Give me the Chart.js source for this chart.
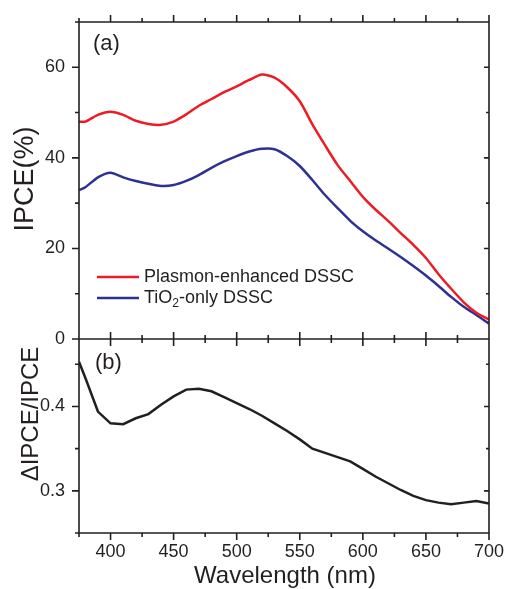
<!DOCTYPE html>
<html>
<head>
<meta charset="utf-8">
<title>IPCE spectra</title>
<script src="https://cdn.jsdelivr.net/npm/chart.js@4.4.1/dist/chart.umd.min.js"></script>
<style>
  body { margin: 0; background: #fff; }
  #wrap { width: 507px; height: 589px; }
</style>
</head>
<body>
<div id="wrap"><canvas id="canvas" width="507" height="589"></canvas></div>
<script>
// wavelength grid (nm), shared by both panels
const wavelength = [375, 380, 390, 400, 410, 420, 430, 440, 450, 460, 470, 480, 490, 500, 510, 520,
  530, 540, 550, 560, 570, 580, 590, 600, 610, 620, 630, 640, 650, 660, 670, 680, 690, 700];

// panel (a): IPCE in %
const plasmonIpce = [48.0, 48.0, 49.5, 50.2, 49.5, 48.2, 47.5, 47.3, 48.0, 49.6, 51.5, 53.0, 54.5, 55.8, 57.2, 58.4,
  57.7, 55.6, 52.5, 47.4, 42.8, 38.4, 34.9, 31.4, 28.6, 26.1, 23.4, 20.8, 17.9, 14.3, 11.1, 8.1, 5.8, 4.3];
const tio2Ipce = [32.9, 33.5, 35.7, 36.7, 35.7, 34.9, 34.3, 33.8, 34.0, 34.9, 36.2, 37.8, 39.2, 40.4, 41.4, 42.0,
  41.9, 40.4, 38.2, 35.1, 31.8, 28.9, 26.1, 23.8, 21.8, 20.0, 18.1, 16.1, 14.0, 11.7, 9.3, 7.1, 5.3, 3.4];

// panel (b): relative enhancement
const ipceRatio = [0.453, 0.434, 0.394, 0.380, 0.379, 0.386, 0.391, 0.402, 0.412, 0.420, 0.421, 0.418, 0.411, 0.404,
  0.397, 0.389, 0.380, 0.371, 0.361, 0.350, 0.345, 0.340, 0.335, 0.326, 0.317, 0.309, 0.301, 0.294, 0.289,
  0.286, 0.284, 0.286, 0.288, 0.285];

// axis ticks
const xMajor = [400, 450, 500, 550, 600, 650, 700];
const xMinor = [375, 425, 475, 525, 575, 625, 675];
const ipceMajor = [0, 20, 40, 60];
const ipceMinor = [10, 30, 50, 70];
const ratioMajor = [0.3, 0.4];
const ratioMinor = [0.25, 0.35, 0.45];

const ink = '#231f20';
const FONT = "'Liberation Sans', Arial, Helvetica, sans-serif";
Chart.defaults.font.family = FONT;
Chart.defaults.color = ink;

function points(ys) {
  return wavelength.map((w, i) => ({ x: w, y: ys[i] }));
}

function fixedTicks(values) {
  return scale => { scale.ticks = values.map(v => ({ value: v })); };
}

// keep the plot box fixed: no extra room for overhanging tick labels
function fixSize(prop, size) {
  return s => {
    s[prop] = size;
    s.paddingLeft = s.paddingRight = s.paddingTop = s.paddingBottom = 0;
  };
}

// frame, tick marks, axis titles and legend drawn over the plot
const framePlugin = {
  id: 'frame',
  afterDraw(chart) {
    const ctx = chart.ctx;
    const x = chart.scales.x, ya = chart.scales.yA, yb = chart.scales.yB;
    const left = chart.chartArea.left, right = chart.chartArea.right;
    const top = ya.top, mid = ya.bottom, bottom = yb.bottom;

    ctx.save();
    ctx.strokeStyle = ink;
    ctx.lineWidth = 1.6;
    ctx.lineCap = 'butt';
    ctx.beginPath();
    ctx.rect(left, top, right - left, bottom - top);
    ctx.moveTo(left, mid); ctx.lineTo(right, mid);

    const seg = (x1, y1, x2, y2) => { ctx.moveTo(x1, y1); ctx.lineTo(x2, y2); };
    xMajor.forEach(v => {
      const p = x.getPixelForValue(v);
      seg(p, top, p, top - 7);
      seg(p, mid - 7, p, mid + 7);
      seg(p, bottom, p, bottom + 7);
    });
    xMinor.forEach(v => {
      const p = x.getPixelForValue(v);
      seg(p, top, p, top - 4);
      seg(p, mid - 4, p, mid + 4);
      seg(p, bottom, p, bottom + 4);
    });
    ipceMajor.forEach(v => {
      const p = ya.getPixelForValue(v);
      seg(left - 7, p, left, p);
      seg(right - 5, p, right, p);
    });
    ipceMinor.forEach(v => {
      const p = ya.getPixelForValue(v);
      seg(left - 4, p, left, p);
      seg(right - 3, p, right, p);
    });
    ratioMajor.forEach(v => {
      const p = yb.getPixelForValue(v);
      seg(left - 7, p, left, p);
      seg(right - 5, p, right, p);
    });
    ratioMinor.forEach(v => {
      const p = yb.getPixelForValue(v);
      seg(left - 4, p, left, p);
      seg(right - 3, p, right, p);
    });
    ctx.stroke();

    // axis titles
    ctx.fillStyle = ink;
    ctx.textAlign = 'center';
    ctx.textBaseline = 'alphabetic';
    ctx.font = '24px ' + FONT;
    ctx.fillText('Wavelength (nm)', 285, 583);

    ctx.save();
    ctx.translate(33, 179);
    ctx.rotate(-Math.PI / 2);
    ctx.font = '27px ' + FONT;
    ctx.fillText('IPCE(%)', 0, 0);
    ctx.restore();

    ctx.save();
    ctx.translate(38, 414);
    ctx.rotate(-Math.PI / 2);
    ctx.font = '24px ' + FONT;
    ctx.fillText('\u0394IPCE/IPCE', 0, 0);
    ctx.restore();

    // panel letters
    ctx.textAlign = 'left';
    ctx.font = '22px ' + FONT;
    ctx.fillText('(a)', 93, 49.5);
    ctx.fillText('(b)', 95, 369);

    // legend
    const rows = [
      { ds: chart.data.datasets[0], y: 277, parts: [['Plasmon-enhanced DSSC', 0]] },
      { ds: chart.data.datasets[1], y: 298, parts: [['TiO', 0], ['2', 1], ['-only DSSC', 0]] }
    ];
    rows.forEach(r => {
      ctx.strokeStyle = r.ds.borderColor;
      ctx.lineWidth = 2.6;
      ctx.beginPath();
      ctx.moveTo(97, r.y); ctx.lineTo(139, r.y);
      ctx.stroke();
      let tx = 144;
      ctx.textBaseline = 'middle';
      r.parts.forEach(([txt, sub]) => {
        ctx.font = (sub ? '12px ' : '18px ') + FONT;
        ctx.fillText(txt, tx, r.y + (sub ? 6 : 0));
        tx += ctx.measureText(txt).width;
      });
    });
    ctx.restore();
  }
};

const tickFont = { size: 18 };

new Chart(document.getElementById('canvas').getContext('2d'), {
  type: 'line',
  data: {
    datasets: [
      { label: 'Plasmon-enhanced DSSC', data: points(plasmonIpce), borderColor: '#ed1c24', yAxisID: 'yA', tension: 0.25 },
      { label: 'TiO2-only DSSC', data: points(tio2Ipce), borderColor: '#2e3192', yAxisID: 'yA', tension: 0.25 },
      { label: '\u0394IPCE/IPCE', data: points(ipceRatio), borderColor: ink, yAxisID: 'yB', tension: 0 }
    ]
  },
  options: {
    responsive: false,
    animation: false,
    layout: { padding: { top: 22, right: 18, left: 0, bottom: 0 } },
    elements: { point: { radius: 0 }, line: { borderWidth: 2.5 } },
    plugins: { legend: { display: false }, tooltip: { enabled: false } },
    scales: {
      x: {
        type: 'linear', min: 375, max: 700,
        grid: { display: false, drawTicks: false }, border: { display: false },
        ticks: { font: tickFont, padding: 8, maxRotation: 0, autoSkip: false, callback: v => String(v) },
        afterBuildTicks: fixedTicks(xMajor),
        afterFit: fixSize('height', 56)
      },
      yB: {
        position: 'left', stack: 'panels', stackWeight: 194,
        min: 0.25, max: 0.48,
        grid: { display: false, drawTicks: false }, border: { display: false },
        ticks: { font: tickFont, padding: 14, callback: v => String(v) },
        afterBuildTicks: fixedTicks(ratioMajor),
        afterFit: fixSize('width', 79)
      },
      yA: {
        position: 'left', stack: 'panels', stackWeight: 317,
        min: 0, max: 70,
        grid: { display: false, drawTicks: false }, border: { display: false },
        ticks: { font: tickFont, padding: 14, callback: v => String(v) },
        afterBuildTicks: fixedTicks(ipceMajor),
        afterFit: fixSize('width', 79)
      }
    }
  },
  plugins: [framePlugin]
});
</script>
</body>
</html>
